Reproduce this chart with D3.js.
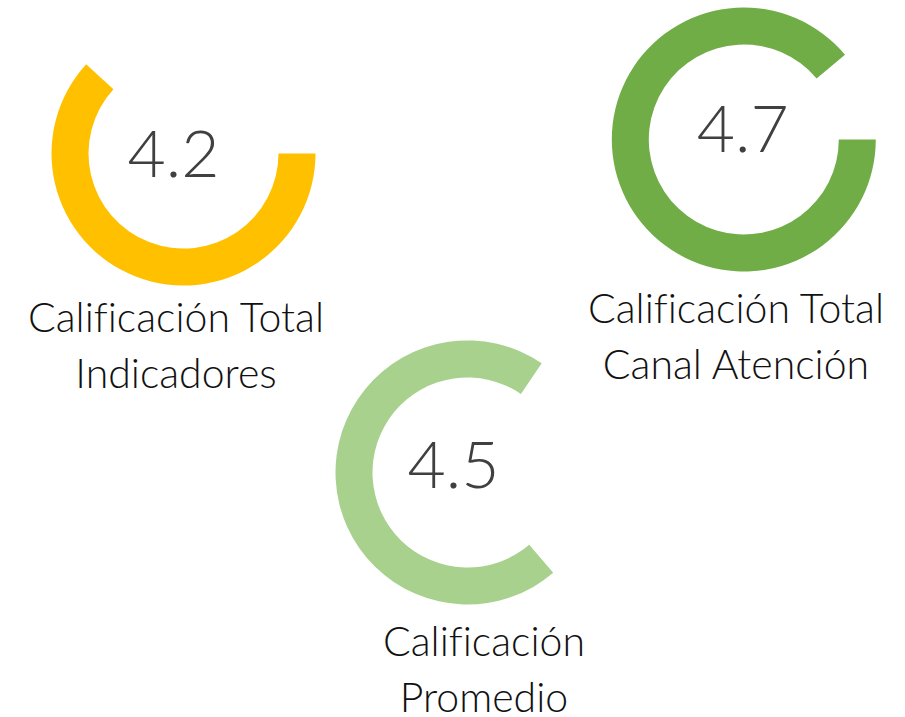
<!DOCTYPE html>
<html>
<head>
<meta charset="utf-8">
<script src="https://cdn.jsdelivr.net/npm/d3@7"></script>
<style>
    body { margin: 0; background: #fff; }
    svg { display: block; }
    .value { font-family: Lato, "Open Sans", sans-serif; font-weight: 300; fill: #404040; }
    .label { font-family: Lato, "Open Sans", sans-serif; font-weight: 300; fill: #111; font-variant-ligatures: none; }
</style>
</head>
<body>
<div class="gauges"></div>
<script>
// data
var values = [4.2, 4.7, 4.5]
var labels = [
    ["Calificación Total", "Indicadores"],
    ["Calificación Total", "Canal Atención"],
    ["Calificación", "Promedio"]
]
var colors = ["#FFC000", "#70AD47", "#A9D18E"]
// part of the ring that is filled, and where it starts (fraction of a turn, clockwise from 12 o'clock)
var arcShare = [0.618, 0.889, 0.7075]
var arcStart = [0.25, 0.25, 0.3875]

!function(){

    var width = 905, height = 717
    var outerR = 132, innerR = 95

    // layout of each gauge: center, value text and label placement
    var layout = [
        {cx: 183.5, cy: 153.5, vx: -10, vy: 23.5, lx: 176, ly: 332},
        {cx: 743.8, cy: 139.5, vx: -1,  vy: 12.5, lx: 736, ly: 323},
        {cx: 467.5, cy: 472.5, vx: -14, vy: 15.5, lx: 484, ly: 656}
    ]

    var svg = d3.select(".gauges").append("svg")
        .attr("width", width)
        .attr("height", height)

    var angle = d3.scaleLinear().domain([0, 1]).range([0, 2 * Math.PI])

    var arc = d3.arc()
        .innerRadius(innerR)
        .outerRadius(outerR)
        .startAngle(function(d) { return angle(d.start) })
        .endAngle(function(d) { return angle(d.start + d.share) })

    var data = values.map(function(v, i) {
        return {value: v, label: labels[i], color: colors[i], share: arcShare[i], start: arcStart[i], pos: layout[i]}
    })

    var gauge = svg.selectAll(".gauge")
        .data(data)
        .enter().append("g")
        .attr("class", "gauge")

    gauge.append("path")
        .attr("transform", function(d) { return "translate(" + [d.pos.cx, d.pos.cy] + ")" })
        .attr("d", arc)
        .attr("fill", function(d) { return d.color })

    gauge.append("text")
        .attr("class", "value")
        .attr("x", function(d) { return d.pos.cx + d.pos.vx })
        .attr("y", function(d) { return d.pos.cy + d.pos.vy })
        .attr("text-anchor", "middle")
        .attr("font-size", 66)
        .text(function(d) { return d3.format(".1f")(d.value) })

    var label = gauge.append("text")
        .attr("class", "label")
        .attr("text-anchor", "middle")
        .attr("font-size", 41)

    label.selectAll("tspan")
        .data(function(d) { return d.label.map(function(t, j) { return {t: t, j: j, pos: d.pos} }) })
        .enter().append("tspan")
        .attr("x", function(d) { return d.pos.lx })
        .attr("y", function(d) { return d.pos.ly + d.j * 55.5 })
        .text(function(d) { return d.t })

}();
</script>
</body>
</html>
